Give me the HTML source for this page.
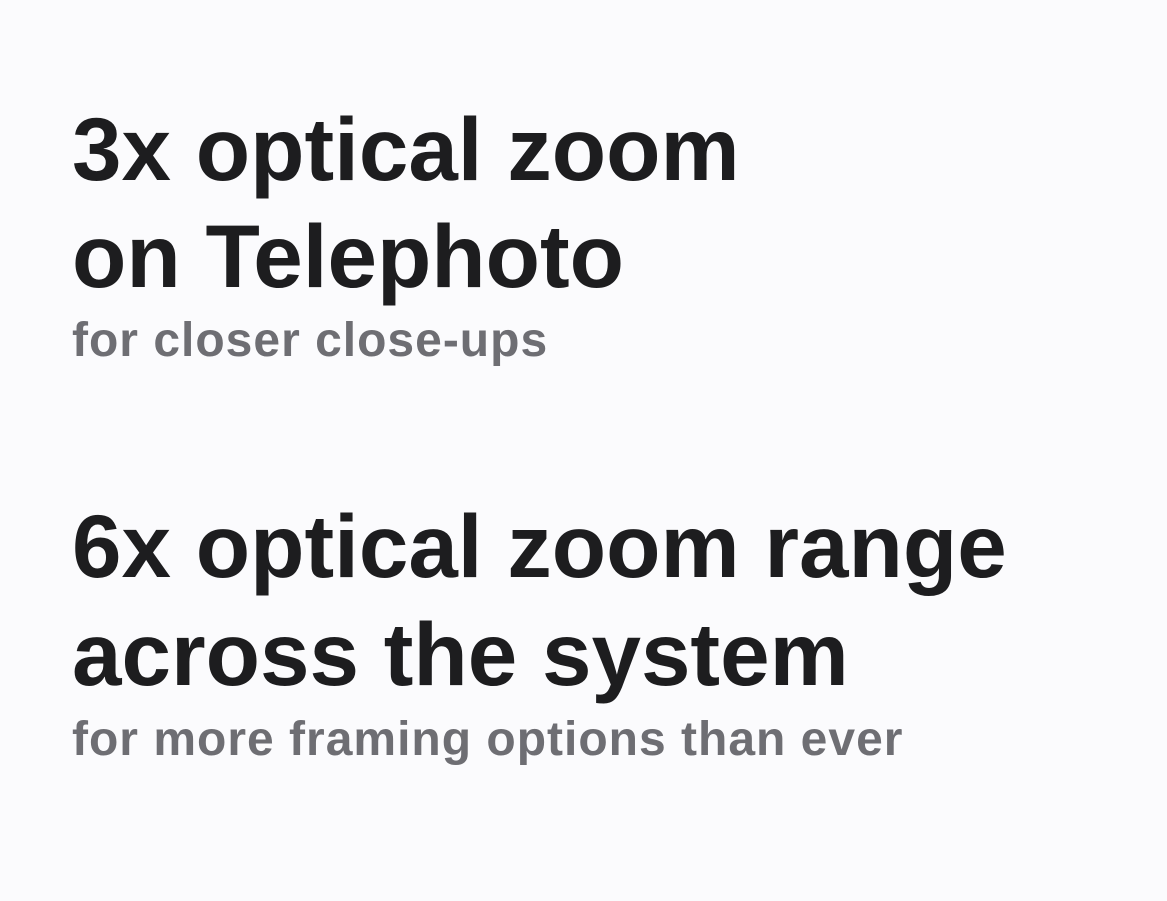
<!DOCTYPE html>
<html>
<head>
<meta charset="utf-8">
<style>
  html, body { margin:0; padding:0; }
  body { width:1167px; height:901px; background:#fbfbfd; position:relative; overflow:hidden;
         font-family:"Liberation Sans", sans-serif; }
  .h { position:absolute; left:72px; font-size:89px; line-height:89px; font-weight:bold;
       color:#1d1d1f; letter-spacing:0px; white-space:nowrap; }
  .s { position:absolute; left:72px; font-size:48px; line-height:48px; font-weight:bold;
       color:#6e6e73; letter-spacing:1px; white-space:nowrap; }
</style>
</head>
<body>
  <div class="h" style="top:105px">3x optical zoom</div>
  <div class="h" style="top:212px">on Telephoto</div>
  <div class="s" style="top:317px">for closer close-ups</div>
  <div class="h" style="top:502px">6x optical zoom range</div>
  <div class="h" style="top:610px">across the system</div>
  <div class="s" style="top:716px">for more framing options than ever</div>
</body>
</html>
